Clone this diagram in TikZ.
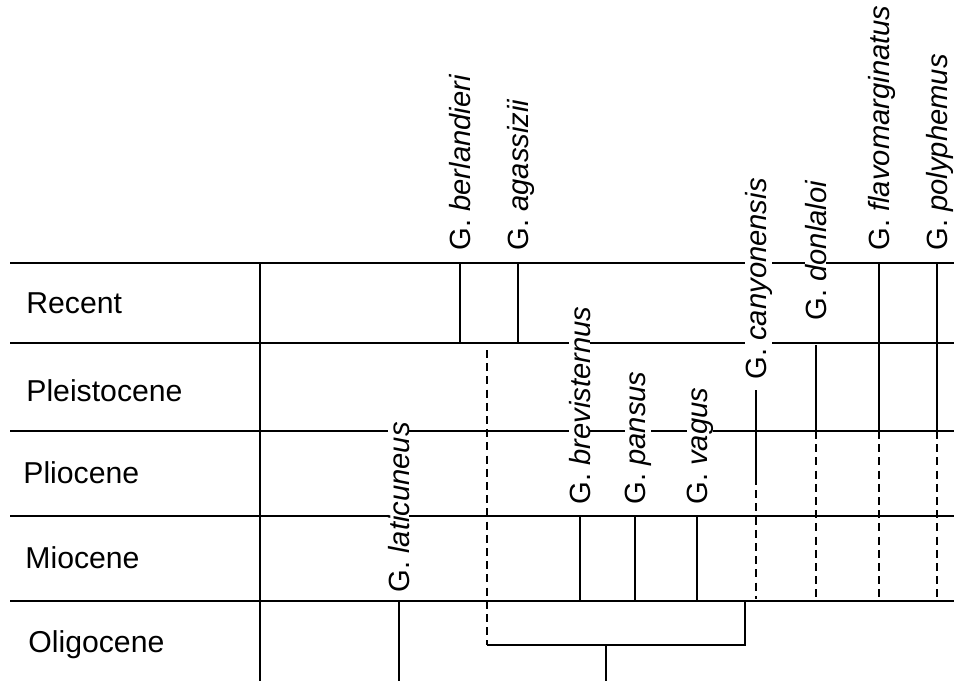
\documentclass[tikz,border=0pt]{standalone}
\usepackage{fontspec}
\setmainfont{Liberation Sans}
\begin{document}
\begin{tikzpicture}[x=0.5pt,y=-0.5pt,
  era/.style={line width=0.7pt},
  branch/.style={line width=1.35pt},
  ghost/.style={line width=1.35pt, dash pattern=on 4pt off 2.6pt},
  period/.style={anchor=base west, inner sep=0pt, font=\fontsize{15.1}{18}\selectfont},
  taxon/.style={rotate=90, anchor=base west, inner sep=0pt, fill=white, font=\fontsize{14.6}{17}\selectfont}]
\useasboundingbox (0,0) rectangle (954,681);
% era grid
\foreach \y in {263,343,431,516,601} \draw[era] (10,\y) -- (954,\y);
\coordinate (gridtop) at (260,263);
\coordinate (gridbot) at (260,681);
\draw[era] (gridtop) -- (gridbot);
% period labels
\node[period] (recent) at (26,313) {Recent};
\node[period] (pleist) at (26,401) {Pleistocene};
\node[period] (plio) at (23,483) {Pliocene};
\node[period] (mio) at (25,568) {Miocene};
\node[period] (oligo) at (28,652) {Oligocene};
% taxon labels
\node[taxon] (berl) at (470,251) {G. \textit{berlandieri}};
\node[taxon] (agas) at (528,251) {G. \textit{agassizii}};
\node[taxon] (canyo) at (766,380) {G. \textit{canyonensis}};
\node[taxon] (donl) at (826,321) {G. \textit{donlaloi}};
\node[taxon] (flavo) at (889,251) {G. \textit{flavomarginatus}};
\node[taxon] (poly) at (947,251) {G. \textit{polyphemus}};
\node[taxon] (brev) at (590,505) {G. \textit{brevisternus}};
\node[taxon] (pans) at (645,505) {G. \textit{pansus}};
\node[taxon] (vagu) at (707,505) {G. \textit{vagus}};
\node[taxon] (lati) at (409,593) {G. \textit{laticuneus}};
% tree coordinates
\coordinate (berlT) at (460,263); \coordinate (berlB) at (460,343);
\coordinate (agasT) at (518,263); \coordinate (agasB) at (518,343);
\coordinate (ghT) at (487,350); \coordinate (ghB) at (487,645);
\coordinate (brk) at (745,645); \coordinate (brkT) at (745,601);
\coordinate (rootT) at (606,645); \coordinate (rootB) at (606,681);
\coordinate (barL) at (580,601); \coordinate (barR) at (937,601);
\coordinate (brevT) at (580,516);
\coordinate (pansT) at (635,517); \coordinate (pansB) at (635,601);
\coordinate (vaguT) at (697,517); \coordinate (vaguB) at (697,601);
\coordinate (canT) at (756,390); \coordinate (canM) at (756,477); \coordinate (canB) at (756,599);
\coordinate (donT) at (816,345); \coordinate (donM) at (816,431); \coordinate (donB) at (816,601);
\coordinate (flaT) at (879,263); \coordinate (flaM) at (879,431); \coordinate (flaB) at (879,601);
\coordinate (polT) at (937,263); \coordinate (polM) at (937,431); \coordinate (polB) at (937,601);
\coordinate (latT) at (399,601); \coordinate (latB) at (399,681);
% branches
\draw[branch] (berlT) -- (berlB);
\draw[branch] (agasT) -- (agasB);
\draw[ghost] (ghT) -- (ghB);
\draw[branch] (ghB) -- (brk) -- (brkT);
\draw[branch] (rootT) -- (rootB);
\draw[branch] (brevT) -- (barL) -- (barR);
\draw[branch] (pansT) -- (pansB);
\draw[branch] (vaguT) -- (vaguB);
\draw[branch] (canT) -- (canM);
\draw[ghost] (canM) -- (canB);
\draw[branch] (donT) -- (donM);
\draw[ghost] (donM) -- (donB);
\draw[branch] (flaT) -- (flaM);
\draw[ghost] (flaM) -- (flaB);
\draw[branch] (polT) -- (polM);
\draw[ghost] (polM) -- (polB);
\draw[branch] (latT) -- (latB);
\end{tikzpicture}
\end{document}
